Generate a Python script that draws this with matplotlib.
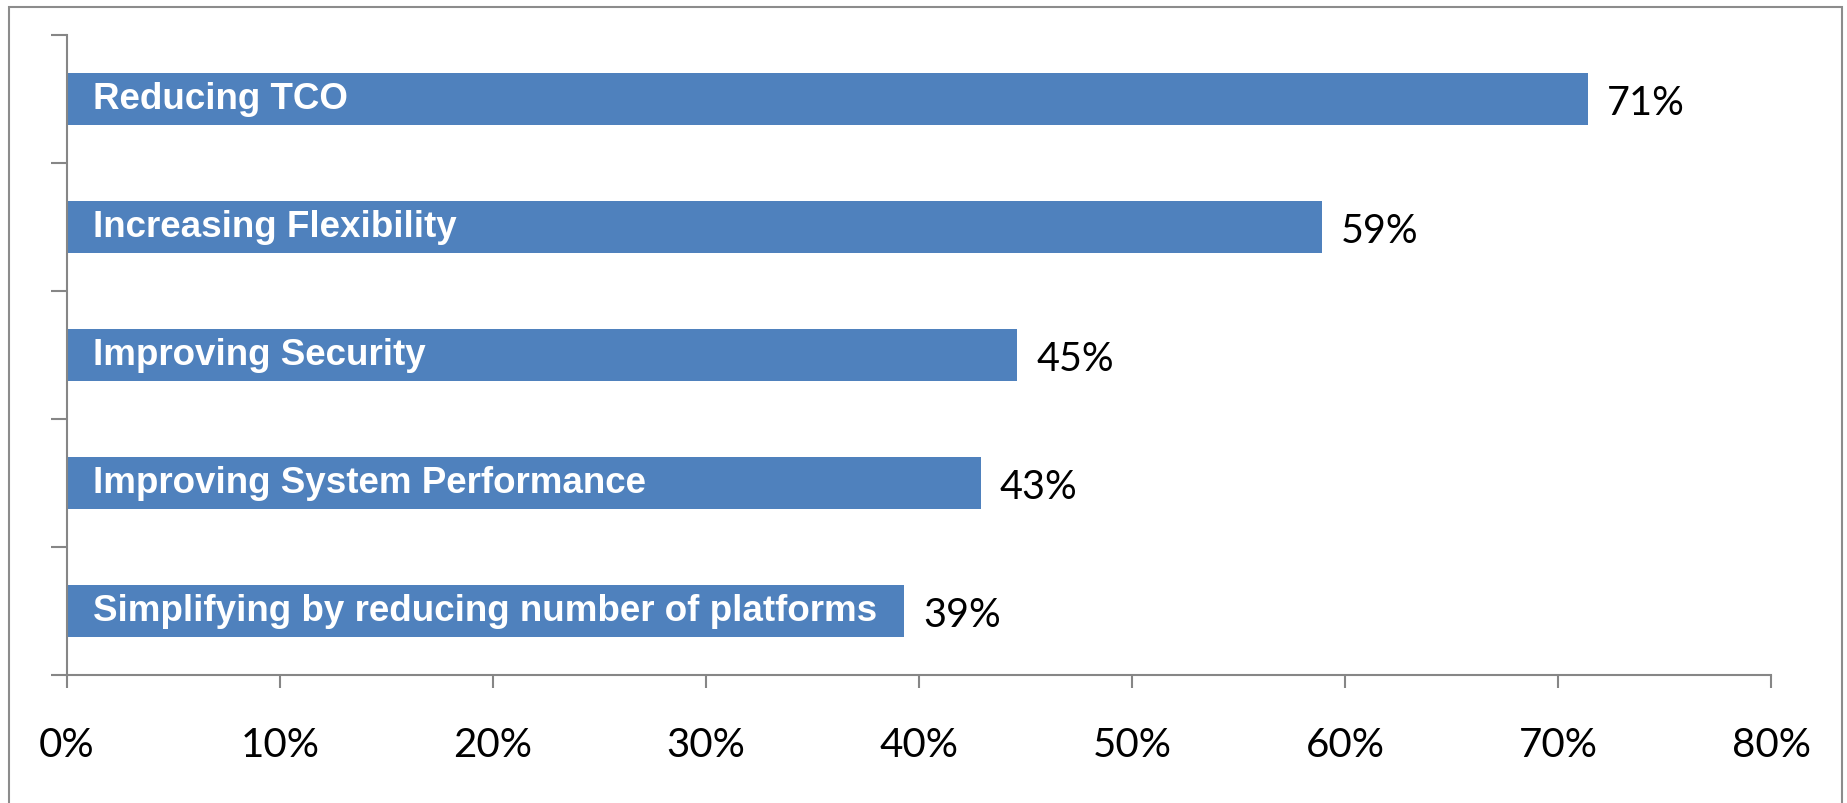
import matplotlib
matplotlib.use("Agg")
import matplotlib.pyplot as plt
from matplotlib.patches import Rectangle
import numpy as np

categories = ["Reducing TCO", "Increasing Flexibility", "Improving Security",
              "Improving System Performance", "Simplifying by reducing number of platforms"]
values = [71.4, 58.9, 44.6, 42.9, 39.3]
value_labels = ["71%", "59%", "45%", "43%", "39%"]
xticks = [0, 10, 20, 30, 40, 50, 60, 70, 80]
xtick_labels = ["0%", "10%", "20%", "30%", "40%", "50%", "60%", "70%", "80%"]

W, H = 1847, 804
fig = plt.figure(figsize=(W / 100, H / 100), dpi=100)
fig.patch.set_facecolor("white")

# outer border
fig.patches.append(Rectangle((9 / W, -0.05), (1842 - 9) / W, 1.05 - 8 / H,
                             transform=fig.transFigure, fill=False,
                             edgecolor="#8c8c8c", linewidth=1.5))

ax = fig.add_axes([67 / W, 1 - 676 / H, (1771 - 67) / W, (676 - 36) / H])
axis_col = "#868686"
bar_col = "#4F81BD"

y = np.arange(len(categories))
ax.barh(y, values, height=0.41, color=bar_col)
ax.set_xlim(0, 80)
ax.set_ylim(len(categories) - 0.5, -0.5)

for yi, cat, v, vl in zip(y, categories, values, value_labels):
    ax.text(1.2, yi, cat, color="white", fontsize=26.5, fontweight="bold",
            family="Liberation Sans", va="center", ha="left")
    ax.text(v + 0.9, yi + 0.03, vl, color="black", fontsize=28.5,
            family="Lato", va="center", ha="left")

for s in ["top", "right"]:
    ax.spines[s].set_visible(False)
for s in ["left", "bottom"]:
    ax.spines[s].set_color(axis_col)
    ax.spines[s].set_linewidth(1.5)

ax.set_yticks(np.arange(-0.5, len(categories) + 0.5, 1))
ax.set_yticklabels([])
ax.tick_params(axis="y", length=11.5, width=1.5, color=axis_col, direction="out")
ax.set_xticks(xticks)
ax.set_xticklabels(xtick_labels, fontsize=29, family="Lato")
ax.tick_params(axis="x", length=9.5, width=1.5, color=axis_col, direction="out", pad=27)

fig.savefig("out.png", dpi=100, facecolor="white")
